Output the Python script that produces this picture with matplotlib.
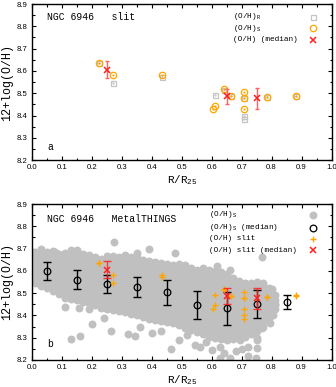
import matplotlib
matplotlib.use("Agg")
import matplotlib.pyplot as plt
from matplotlib.ticker import MultipleLocator

plt.rcParams['mathtext.fontset'] = 'custom'
plt.rcParams['mathtext.rm'] = 'Liberation Mono'
plt.rcParams['mathtext.default'] = 'rm'

MONO = 'Liberation Mono'
SANS = 'Liberation Sans'

# ---------------- panel a data ----------------
r_x = [0.224, 0.270, 0.434, 0.610, 0.642, 0.663, 0.708, 0.708, 0.708, 0.786, 0.881]
r_y = [8.634, 8.546, 8.572, 8.492, 8.515, 8.489, 8.478, 8.400, 8.384, 8.482, 8.490]
s_x = [0.224, 0.270, 0.434, 0.603, 0.610, 0.642, 0.663, 0.708, 0.708, 0.708, 0.786, 0.881]
s_y = [8.634, 8.581, 8.582, 8.428, 8.445, 8.519, 8.488, 8.507, 8.478, 8.430, 8.482, 8.488]
med_x = [0.25, 0.65, 0.75]
med_y = [8.605, 8.486, 8.477]
med_err = [0.038, 0.035, 0.047]

# ---------------- panel b data ----------------
mt_med_x = [0.05, 0.15, 0.25, 0.35, 0.45, 0.55, 0.65, 0.75, 0.85]
mt_med_y = [8.599, 8.561, 8.542, 8.526, 8.503, 8.448, 8.432, 8.452, 8.459]
mt_med_err = [0.040, 0.043, 0.041, 0.045, 0.057, 0.062, 0.073, 0.062, 0.031]

# MetalTHINGS individual points (dense band, listed per radial column)
band = {
    0.01: [8.545, 8.565, 8.585, 8.605, 8.625, 8.645, 8.665, 8.685],
    0.03: [8.53, 8.55, 8.57, 8.59, 8.61, 8.63, 8.65, 8.67, 8.69],
    0.05: [8.525, 8.545, 8.565, 8.585, 8.605, 8.625, 8.645, 8.665, 8.685],
    0.07: [8.51, 8.53, 8.55, 8.57, 8.59, 8.61, 8.63, 8.65, 8.67, 8.69],
    0.09: [8.495, 8.515, 8.535, 8.555, 8.575, 8.595, 8.615, 8.635, 8.655, 8.675],
    0.11: [8.48, 8.50, 8.52, 8.54, 8.56, 8.58, 8.60, 8.62, 8.64, 8.66, 8.68],
    0.13: [8.475, 8.495, 8.515, 8.535, 8.555, 8.575, 8.595, 8.615, 8.635, 8.655, 8.675, 8.695],
    0.15: [8.47, 8.49, 8.51, 8.53, 8.55, 8.57, 8.59, 8.61, 8.63, 8.65, 8.67, 8.69],
    0.17: [8.46, 8.48, 8.50, 8.52, 8.54, 8.56, 8.58, 8.60, 8.62, 8.64, 8.66, 8.675],
    0.19: [8.455, 8.475, 8.495, 8.515, 8.535, 8.555, 8.575, 8.595, 8.615, 8.635, 8.655, 8.67],
    0.21: [8.445, 8.465, 8.485, 8.505, 8.525, 8.545, 8.565, 8.585, 8.605, 8.625, 8.645, 8.66],
    0.23: [8.435, 8.455, 8.475, 8.495, 8.515, 8.535, 8.555, 8.575, 8.595, 8.615, 8.635, 8.655],
    0.25: [8.43, 8.45, 8.47, 8.49, 8.51, 8.53, 8.55, 8.57, 8.59, 8.61, 8.63, 8.65, 8.665],
    0.27: [8.425, 8.445, 8.465, 8.485, 8.505, 8.525, 8.545, 8.565, 8.585, 8.605, 8.625, 8.645, 8.665],
    0.29: [8.42, 8.44, 8.46, 8.48, 8.50, 8.52, 8.54, 8.56, 8.58, 8.60, 8.62, 8.64, 8.66],
    0.31: [8.415, 8.435, 8.455, 8.475, 8.495, 8.515, 8.535, 8.555, 8.575, 8.595, 8.615, 8.635, 8.655, 8.67],
    0.33: [8.405, 8.425, 8.445, 8.465, 8.485, 8.505, 8.525, 8.545, 8.565, 8.585, 8.605, 8.625, 8.645, 8.66],
    0.35: [8.40, 8.42, 8.44, 8.46, 8.48, 8.50, 8.52, 8.54, 8.56, 8.58, 8.60, 8.62, 8.64, 8.66],
    0.37: [8.395, 8.415, 8.435, 8.455, 8.475, 8.495, 8.515, 8.535, 8.555, 8.575, 8.595, 8.615, 8.635, 8.65],
    0.39: [8.385, 8.405, 8.425, 8.445, 8.465, 8.485, 8.505, 8.525, 8.545, 8.565, 8.585, 8.605, 8.625, 8.645],
    0.41: [8.38, 8.40, 8.42, 8.44, 8.46, 8.48, 8.50, 8.52, 8.54, 8.56, 8.58, 8.60, 8.62, 8.64],
    0.43: [8.375, 8.395, 8.415, 8.435, 8.455, 8.475, 8.495, 8.515, 8.535, 8.555, 8.575, 8.595, 8.615, 8.635],
    0.45: [8.37, 8.39, 8.41, 8.43, 8.45, 8.47, 8.49, 8.51, 8.53, 8.55, 8.57, 8.59, 8.61, 8.63],
    0.47: [8.365, 8.385, 8.405, 8.425, 8.445, 8.465, 8.485, 8.505, 8.525, 8.545, 8.565, 8.585, 8.605, 8.625],
    0.49: [8.355, 8.375, 8.395, 8.415, 8.435, 8.455, 8.475, 8.495, 8.515, 8.535, 8.555, 8.575, 8.595, 8.615, 8.63],
    0.51: [8.345, 8.365, 8.385, 8.405, 8.425, 8.445, 8.465, 8.485, 8.505, 8.525, 8.545, 8.565, 8.585, 8.605, 8.625],
    0.53: [8.335, 8.355, 8.375, 8.395, 8.415, 8.435, 8.455, 8.475, 8.495, 8.515, 8.535, 8.555, 8.575, 8.595, 8.615],
    0.55: [8.325, 8.345, 8.365, 8.385, 8.405, 8.425, 8.445, 8.465, 8.485, 8.505, 8.525, 8.545, 8.565, 8.585, 8.605],
    0.57: [8.315, 8.335, 8.355, 8.375, 8.395, 8.415, 8.435, 8.455, 8.475, 8.495, 8.515, 8.535, 8.555, 8.575, 8.595, 8.615],
    0.59: [8.305, 8.325, 8.345, 8.365, 8.385, 8.405, 8.425, 8.445, 8.465, 8.485, 8.505, 8.525, 8.545, 8.565, 8.585, 8.605],
    0.61: [8.30, 8.32, 8.34, 8.36, 8.38, 8.40, 8.42, 8.44, 8.46, 8.48, 8.50, 8.52, 8.54, 8.56, 8.58, 8.60],
    0.63: [8.295, 8.315, 8.335, 8.355, 8.375, 8.395, 8.415, 8.435, 8.455, 8.475, 8.495, 8.515, 8.535, 8.555, 8.575, 8.595],
    0.65: [8.29, 8.31, 8.33, 8.35, 8.37, 8.39, 8.41, 8.43, 8.45, 8.47, 8.49, 8.51, 8.53, 8.55, 8.57, 8.585],
    0.67: [8.295, 8.315, 8.335, 8.355, 8.375, 8.395, 8.415, 8.435, 8.455, 8.475, 8.495, 8.515, 8.535, 8.555, 8.57],
    0.69: [8.30, 8.32, 8.34, 8.36, 8.38, 8.40, 8.42, 8.44, 8.46, 8.48, 8.50, 8.52, 8.54, 8.555],
    0.71: [8.305, 8.325, 8.345, 8.365, 8.385, 8.405, 8.425, 8.445, 8.465, 8.485, 8.505, 8.525, 8.545],
    0.73: [8.315, 8.335, 8.355, 8.375, 8.395, 8.415, 8.435, 8.455, 8.475, 8.495, 8.515, 8.535, 8.545],
    0.75: [8.33, 8.35, 8.37, 8.39, 8.41, 8.43, 8.45, 8.47, 8.49, 8.51, 8.53, 8.55],
    0.77: [8.35, 8.37, 8.39, 8.41, 8.43, 8.45, 8.47, 8.49, 8.51, 8.53, 8.545],
    0.79: [8.39, 8.41, 8.43, 8.45, 8.47, 8.49, 8.51, 8.525],
    0.81: [8.43, 8.45, 8.47, 8.49],
}
outlier_x = [0.077, 0.273, 0.39, 0.478, 0.767, 0.13, 0.16, 0.264, 0.32, 0.344, 0.40, 0.49,
             0.465, 0.11, 0.156, 0.19, 0.24, 0.795, 0.769, 0.752, 0.752, 0.722, 0.75, 0.694,
             0.661, 0.628, 0.60, 0.544, 0.516, 0.795, 0.811, 0.661, 0.617, 0.628, 0.661, 0.747,
             0.02, 0.20, 0.36, 0.43, 0.56, 0.58, 0.68, 0.72, 0.64, 0.70, 0.01, 0.03, 0.15,
             0.35, 0.805, 0.79, 0.775, 0.80]
outlier_y = [8.686, 8.73, 8.70, 8.68, 8.664, 8.294, 8.309, 8.331, 8.317, 8.308, 8.32, 8.29,
             8.25, 8.44, 8.433, 8.43, 8.39, 8.365, 8.342, 8.29, 8.253, 8.26, 8.30, 8.29,
             8.305, 8.26, 8.245, 8.267, 8.312, 8.424, 8.447, 8.604, 8.622, 8.208, 8.208, 8.208,
             8.545, 8.36, 8.35, 8.33, 8.26, 8.28, 8.24, 8.22, 8.23, 8.25, 8.68, 8.70, 8.695,
             8.68, 8.40, 8.47, 8.50, 8.52]

mt_x = [x for x, ys in band.items() for _ in ys] + outlier_x
mt_y = [y for ys in band.values() for y in ys] + outlier_y

# slit points (both calibrations) for panel b
slit_x = r_x + s_x
slit_y = r_y + s_y

GRAY_SQ = '#c4c4c4'
ORANGE = '#ffa500'
RED = '#ff2020'
RED_BAR = '#ff6060'
GRAY_DOT = '#c0c0c0'

fig = plt.figure(figsize=(3.36, 3.87), dpi=100)
W, H = 336.0, 387.0
axa = fig.add_axes([32 / W, 1 - 160.3 / H, 299.5 / W, 156.3 / H])
axb = fig.add_axes([32 / W, 1 - 360 / H, 299.5 / W, 156 / H])


def style(ax):
    ax.set_xlim(0.0, 1.0)
    ax.set_ylim(8.2, 8.9)
    ax.xaxis.set_minor_locator(MultipleLocator(0.05))
    ax.yaxis.set_minor_locator(MultipleLocator(0.05))
    ax.tick_params(which='both', direction='in', top=True, right=True, width=0.8, pad=3)
    ax.tick_params(which='major', length=3.2)
    ax.tick_params(which='minor', length=1.8)
    ax.set_xticks([i / 10 for i in range(11)])
    ax.set_xticklabels(['%.1f' % (i / 10) for i in range(11)], fontfamily=SANS, fontsize=5.6)
    ax.set_yticks([8.2 + i / 10 for i in range(8)])
    ax.set_yticklabels(['%.1f' % (8.2 + i / 10) for i in range(8)], fontfamily=SANS, fontsize=5.6)
    for sp in ax.spines.values():
        sp.set_linewidth(1.0)
    ax.set_xlabel(r'R/R$_{25}$', fontfamily=MONO, fontsize=7.8, labelpad=1.5)
    ax.set_ylabel('12+log(O/H)', fontfamily=MONO, fontsize=8.4, labelpad=3)


# ---------------- panel a ----------------
style(axa)
axa.plot(r_x, r_y, ls='none', marker='s', ms=3.6, mfc='none', mec=GRAY_SQ, mew=0.9)
axa.plot(r_x, r_y, ls='none', marker='.', ms=1.2, color=GRAY_SQ)
axa.plot(s_x, s_y, ls='none', marker='o', ms=4.6, mfc='none', mec=ORANGE, mew=0.9)
axa.plot(s_x, s_y, ls='none', marker='.', ms=1.2, color=ORANGE)
axa.errorbar(med_x, med_y, yerr=med_err, ls='none', ecolor=RED_BAR, elinewidth=1.0,
             capsize=1.2, capthick=1.0)
axa.plot(med_x, med_y, ls='none', marker='x', ms=4.6, mew=1.1, color=RED)

axa.text(0.049, 0.917, 'NGC 6946   slit', transform=axa.transAxes, fontfamily=MONO,
         fontsize=7.0, va='center', ha='left')
axa.text(0.05, 0.085, 'a', transform=axa.transAxes, fontfamily=MONO, fontsize=7.0,
         va='center', ha='left')
leg_a = [(r'(O/H)$_{R}$', 0.917), (r'(O/H)$_{S}$', 0.845), ('(O/H) (median)', 0.77)]
for txt, yy in leg_a:
    axa.text(0.672, yy, txt, transform=axa.transAxes, fontfamily=MONO, fontsize=5.6,
             va='center', ha='left')
axa.plot([0.938], [0.917], transform=axa.transAxes, marker='s', ms=3.6, mfc='none',
         mec=GRAY_SQ, mew=0.9, ls='none')
axa.plot([0.938], [0.845], transform=axa.transAxes, marker='o', ms=4.6, mfc='none',
         mec=ORANGE, mew=0.9, ls='none')
axa.plot([0.938], [0.77], transform=axa.transAxes, marker='x', ms=4.6, mew=1.1,
         color=RED, ls='none')

# ---------------- panel b ----------------
style(axb)
axb.plot(mt_x, mt_y, ls='none', marker='o', ms=5.7, mew=0, color=GRAY_DOT)
axb.errorbar(mt_med_x, mt_med_y, yerr=mt_med_err, ls='none', ecolor='black',
             elinewidth=1.0, capsize=2.8, capthick=1.0)
axb.plot(mt_med_x, mt_med_y, ls='none', marker='o', ms=4.8, mfc='none', mec='black', mew=0.9)
axb.plot(slit_x, slit_y, ls='none', marker='+', ms=4.2, mew=1.0, color=ORANGE)
axb.errorbar(med_x, med_y, yerr=med_err, ls='none', ecolor=RED, elinewidth=1.0,
             capsize=2.8, capthick=1.0, alpha=0.85)
axb.plot(med_x, med_y, ls='none', marker='x', ms=4.6, mew=1.1, color=RED)

axb.text(0.049, 0.904, 'NGC 6946   MetalTHINGS', transform=axb.transAxes, fontfamily=MONO,
         fontsize=7.0, va='center', ha='left')
axb.text(0.05, 0.103, 'b', transform=axb.transAxes, fontfamily=MONO, fontsize=7.0,
         va='center', ha='left')
leg_b = [(r'(O/H)$_{S}$', 0.93), (r'(O/H)$_{S}$ (median)', 0.848),
         ('(O/H) slit', 0.776), ('(O/H) slit (median)', 0.705)]
for txt, yy in leg_b:
    axb.text(0.591, yy, txt, transform=axb.transAxes, fontfamily=MONO, fontsize=5.6,
             va='center', ha='left')
axb.plot([0.938], [0.93], transform=axb.transAxes, marker='o', ms=5.7, mew=0,
         color=GRAY_DOT, ls='none')
axb.plot([0.938], [0.848], transform=axb.transAxes, marker='o', ms=4.8, mfc='none',
         mec='black', mew=0.9, ls='none')
axb.plot([0.938], [0.776], transform=axb.transAxes, marker='+', ms=4.2, mew=1.0,
         color=ORANGE, ls='none')
axb.plot([0.938], [0.705], transform=axb.transAxes, marker='x', ms=4.6, mew=1.1,
         color=RED, ls='none')

fig.savefig('out.png', dpi=100)
